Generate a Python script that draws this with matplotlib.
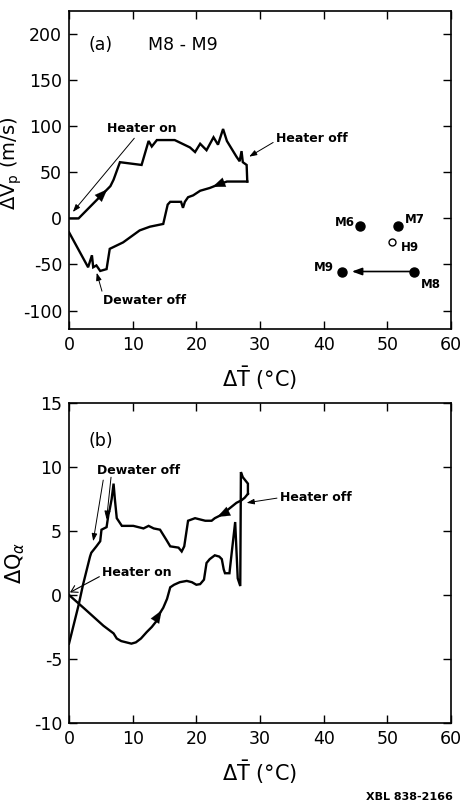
import matplotlib
matplotlib.use("Agg")
import matplotlib.pyplot as plt
import numpy as np

plt.rcParams['font.family'] = ['DejaVu Sans']
plt.rcParams['mathtext.fontset'] = 'dejavusans'
plt.rcParams['axes.unicode_minus'] = False

# ---------------- (a) M8 - M9 : delta Vp vs delta T ----------------
a_heat_x = [0.0, 1.5, 6.5, 7.0, 8.0, 11.4, 12.5, 13.0, 13.8, 16.6, 19.0, 19.8, 20.6,
            21.6, 22.7, 23.4, 24.2, 24.8, 26.3, 26.8, 27.1, 27.3, 27.9, 28.0]
a_heat_y = [0, 0, 35, 42, 61, 58, 84, 78, 85, 85, 77, 72, 81,
            74, 88, 80, 97, 84, 67, 62, 73, 61, 58, 40]

a_cool_x = [28.0, 24.8, 23.2, 22.1, 20.6, 19.5, 18.7, 18.2, 17.9, 17.6, 15.9, 15.5,
            14.8, 12.7, 11.1, 10.1, 8.5, 7.0, 6.4, 5.9, 4.9, 4.3, 3.8, 3.6, 3.0, 0.0]
a_cool_y = [40, 40, 36, 33, 30, 25, 23, 18, 11.5, 18, 18, 15,
            -6, -9, -13, -18, -26, -31, -33, -55, -57, -51, -53, -40, -53, -15]

well_names = ['M6', 'M7', 'M9', 'M8']
well_x = [45.7, 51.7, 42.9, 54.2]
well_y = [-8.6, -8.6, -57.6, -57.6]
h9_x, h9_y = 50.8, -25.8

# ---------------- (b) delta Q alpha vs delta T ----------------
b_heat_x = [0.0, 2.5, 5.4, 7.0, 7.5, 8.2, 9.8, 10.5, 11.3, 12.2, 13.0, 13.8, 14.3,
            14.8, 15.4, 15.9, 16.5, 17.4, 18.5, 19.3, 20.0, 20.6, 21.2, 21.6, 22.1,
            22.9, 23.6, 24.0, 24.3, 24.5, 25.2, 25.6, 26.1, 26.3, 26.5, 26.9, 27.0,
            27.3, 28.1, 28.1]
b_heat_y = [0.0, -1.1, -2.4, -3.0, -3.4, -3.6, -3.8, -3.7, -3.4, -2.9, -2.5, -2.0, -1.4,
            -1.0, -0.3, 0.6, 0.8, 1.0, 1.1, 1.0, 0.8, 0.85, 1.2, 2.5, 2.8,
            3.1, 3.0, 2.8, 2.0, 1.7, 1.7, 3.5, 5.7, 3.5, 1.3, 0.7, 9.6,
            9.2, 8.7, 7.9]

b_cool_x = [28.1, 27.6, 27.1, 26.3, 25.8, 24.8, 23.7, 22.9, 22.4, 21.4, 19.8, 18.7,
            18.4, 18.1, 17.7, 17.2, 15.9, 15.3, 14.3, 13.3, 12.5, 11.7, 10.1, 9.0,
            8.3, 7.5, 7.2, 7.0, 6.7, 6.4, 6.2, 5.9, 5.1, 4.9, 4.3, 3.5, 3.3, 2.2,
            1.5, 0.0]
b_cool_y = [7.9, 7.6, 7.4, 7.2, 7.0, 6.6, 6.2, 6.0, 5.8, 5.8, 6.0, 5.8,
            4.8, 3.8, 3.4, 3.7, 3.8, 4.3, 5.1, 5.2, 5.4, 5.2, 5.4, 5.4,
            5.4, 6.0, 7.5, 8.7, 7.5, 6.7, 6.3, 5.3, 5.1, 4.2, 3.8, 3.3, 3.0, 0.8,
            -0.8, -3.8]

x_ticks = [0, 10, 20, 30, 40, 50, 60]
a_yticks = [-100, -50, 0, 50, 100, 150, 200]
b_yticks = [-10, -5, 0, 5, 10, 15]

LW = 1.7
TXT = dict(fontsize=9, fontweight='bold')
ARW = dict(arrowstyle='-|>,head_length=0.5,head_width=0.18', color='k', lw=0.7,
           shrinkA=0, shrinkB=0)


def flow_arrow(ax, xs, ys, k, t=0.5):
    """Filled arrowhead along segment k of a curve, showing its direction."""
    x0, y0, x1, y1 = xs[k], ys[k], xs[k + 1], ys[k + 1]
    tip = (x0 + t * (x1 - x0), y0 + t * (y1 - y0))
    tail = (x0 + (t - 0.02) * (x1 - x0), y0 + (t - 0.02) * (y1 - y0))
    ax.annotate('', xy=tip, xytext=tail,
                arrowprops=dict(arrowstyle='-|>,head_length=0.9,head_width=0.35',
                                color='k', lw=0.1, shrinkA=0, shrinkB=0))


def style_axes(ax, yticks):
    ax.set_xlim(0, 60)
    ax.set_xticks(x_ticks)
    ax.set_yticks(yticks)
    ax.tick_params(direction='in', length=6, width=1.0, top=True, right=True,
                   labelsize=12.5, pad=5)
    for s in ax.spines.values():
        s.set_linewidth(1.2)


fig = plt.figure(figsize=(4.61, 8.10), dpi=100)

# ---- panel (a)
ax1 = fig.add_axes([0.1497, 0.5938, 0.8286, 0.3926])
ax1.plot(a_heat_x, a_heat_y, color='k', lw=LW, solid_joinstyle='miter')
ax1.plot(a_cool_x, a_cool_y, color='k', lw=LW, solid_joinstyle='miter')
flow_arrow(ax1, a_heat_x, a_heat_y, 1, 0.9)
flow_arrow(ax1, a_cool_x, a_cool_y, 2, 0.6)

ax1.plot(well_x, well_y, 'o', color='k', ms=6.5, ls='none')
ax1.plot([h9_x], [h9_y], 'o', mfc='white', mec='k', ms=5, mew=1.0)
ax1.annotate('', xy=(well_x[2], well_y[2]), xytext=(well_x[3], well_y[3]),
             arrowprops=dict(arrowstyle='-|>,head_length=0.6,head_width=0.22',
                             color='k', lw=1.2, shrinkA=3, shrinkB=7))
lbl_off = {'M6': (-4, 3, 'right'), 'M7': (5, 5, 'left'),
           'M9': (-6, 3, 'right'), 'M8': (5, -9, 'left')}
for n, x, y in zip(well_names, well_x, well_y):
    dx, dy, ha = lbl_off[n]
    ax1.annotate(n, (x, y), xytext=(dx, dy), textcoords='offset points',
                 ha=ha, va='center', fontsize=8.5, fontweight='bold')
ax1.annotate('H9', (h9_x, h9_y), xytext=(6, -4), textcoords='offset points',
             ha='left', va='center', fontsize=8.5, fontweight='bold')

ax1.text(3.0, 188, '(a)', fontsize=12.5, va='center')
ax1.text(12.4, 188, 'M8 - M9', fontsize=12.5, va='center')

ax1.annotate('Heater on', xy=(0.6, 7), xytext=(6.0, 90), **TXT, va='bottom',
             arrowprops=ARW)
ax1.annotate('Heater off', xy=(28.3, 67), xytext=(32.5, 87), **TXT, va='center',
             arrowprops=dict(ARW, relpos=(0, 0.3)))
ax1.annotate('Dewater off', xy=(4.35, -59), xytext=(5.3, -89), **TXT, va='center',
             arrowprops=dict(ARW, relpos=(0.0, 1.0)))

style_axes(ax1, a_yticks)
ax1.set_ylim(-120, 225)
ax1.set_xlabel(r'$\Delta\bar{\mathrm{T}}$ (°C)', fontsize=15, labelpad=8)
ax1.set_ylabel(r'$\Delta \mathrm{V_p}$ (m/s)', fontsize=14)
ax1.yaxis.set_label_coords(-0.118, 0.52)

# ---- panel (b)
ax2 = fig.add_axes([0.1497, 0.1074, 0.8286, 0.3951])
ax2.plot(b_heat_x, b_heat_y, color='k', lw=LW, solid_joinstyle='miter')
ax2.plot(b_cool_x, b_cool_y, color='k', lw=LW, solid_joinstyle='miter')
flow_arrow(ax2, b_heat_x, b_heat_y, 12, 0.5)
flow_arrow(ax2, b_cool_x, b_cool_y, 6, 0.5)

ax2.text(3.0, 12.0, '(b)', fontsize=12.5, va='center')
ax2.annotate('Dewater off', xy=(3.8, 4.2), xytext=(4.4, 9.7), **TXT, va='center',
             arrowprops=dict(ARW, relpos=(0.08, 0.0)))
ax2.annotate('', xy=(5.9, 5.9), xytext=(6.6, 9.2), arrowprops=ARW)
ax2.annotate('Heater off', xy=(27.9, 7.2), xytext=(33.1, 7.6), **TXT, va='center',
             arrowprops=dict(ARW, relpos=(0, 0.5)))
ax2.annotate('Heater on', xy=(0.15, 0.2), xytext=(5.2, 1.75), **TXT, va='center',
             arrowprops=dict(arrowstyle='->,head_length=0.5,head_width=0.3',
                             color='k', lw=0.8, shrinkA=0, shrinkB=0,
                             relpos=(0, 0.3)))

style_axes(ax2, b_yticks)
ax2.set_ylim(-10, 15)
ax2.set_xlabel(r'$\Delta\bar{\mathrm{T}}$ (°C)', fontsize=15, labelpad=8)
ax2.set_ylabel(r'$\Delta \mathrm{Q}_{\alpha}$', fontsize=15)
ax2.yaxis.set_label_coords(-0.11, 0.5)

fig.text(0.983, 0.01, 'XBL 838-2166', ha='right', va='bottom', fontsize=8,
         fontweight='bold')

fig.savefig('out.png', dpi=100)
